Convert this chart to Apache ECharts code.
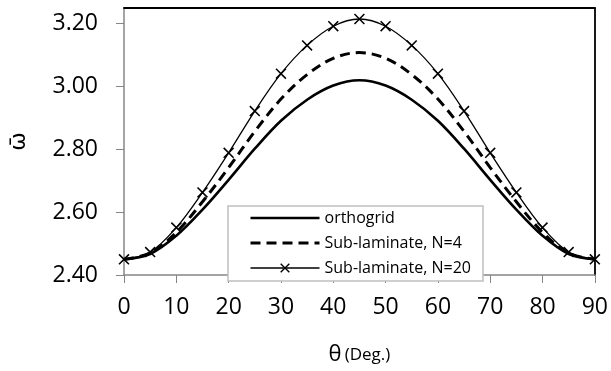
<!DOCTYPE html>
<html>
<head>
<meta charset="utf-8">
<script src="https://cdn.jsdelivr.net/npm/echarts@6/dist/echarts.min.js"></script>
<style>html,body{margin:0;padding:0;background:#fff;}#c{width:611px;height:371px;}</style>
</head>
<body>
<div id="c"></div>
<script>
const xDeg = [0,5,10,15,20,25,30,35,40,45,50,55,60,65,70,75,80,85,90];
const orthogrid = [2.45,2.467,2.525,2.608,2.703,2.802,2.891,2.958,3.003,3.020,3.003,2.958,2.891,2.802,2.703,2.608,2.525,2.467,2.45];
const subN4 = [2.45,2.470,2.536,2.633,2.742,2.857,2.960,3.038,3.090,3.108,3.090,3.038,2.960,2.857,2.742,2.633,2.536,2.470,2.45];
const subN20 = [2.45,2.473,2.551,2.663,2.789,2.922,3.041,3.131,3.192,3.215,3.192,3.131,3.041,2.922,2.789,2.663,2.551,2.473,2.45];
const yTicks = [2.4,2.6,2.8,3.0,3.2];
const seriesNames = ['orthogrid','Sub-laminate, N=4','Sub-laminate, N=20'];

const pairs = arr => xDeg.map((x,i)=>[x,arr[i]]);
const xMark = 'path://M0,1L1,0L10,9L9,10ZM9,0L10,1L1,10L0,9Z';
const FONT = 'Open Sans';
const chart = echarts.init(document.getElementById('c'), null, {renderer:'canvas'});
chart.setOption({
  animation:false,
  backgroundColor:'#fff',
  textStyle:{fontFamily:FONT,color:'#000'},
  grid:{left:123,right:13,top:8,bottom:82,containLabel:false},
  legend:{
    orient:'vertical', left:228, top:206,
    backgroundColor:'#fff', borderColor:'#bfbfbf', borderWidth:1.5,
    padding:[4,12,5,21], itemGap:9, itemWidth:69, itemHeight:12,
    textStyle:{fontFamily:FONT,fontSize:16,color:'#000',lineHeight:16},
    data:[
      {name:seriesNames[0], itemStyle:{opacity:0}, lineStyle:{width:2.6,color:'#000'}},
      {name:seriesNames[1], itemStyle:{opacity:0}, lineStyle:{width:3,color:'#000',type:[10,6]}},
      {name:seriesNames[2], lineStyle:{width:1.3,color:'#000'}}
    ]
  },
  xAxis:[{
    type:'value', min:0, max:90, interval:10,
    name:'{a|θ} {b|(Deg.)}', nameLocation:'middle', nameGap:69,
    nameTextStyle:{rich:{a:{fontFamily:FONT,fontSize:22,color:'#000'},b:{fontFamily:FONT,fontSize:17,color:'#000'}}},
    axisLine:{onZero:false,lineStyle:{color:'#868686',width:1.5}},
    axisTick:{show:true,length:8,lineStyle:{color:'#868686',width:1}},
    axisLabel:{fontFamily:FONT,fontSize:23,color:'#000',margin:21},
    splitLine:{show:false}
  },{
    type:'value', position:'top', min:0, max:90,
    axisLine:{show:true,onZero:false,lineStyle:{color:'#000',width:1.8}},
    axisTick:{show:false}, axisLabel:{show:false}, splitLine:{show:false}
  }],
  yAxis:[{
    type:'value', min:2.4, max:3.25, interval:0.2,
    name:'ω̄', nameLocation:'middle', nameGap:94, nameRotate:90,
    nameTextStyle:{fontFamily:'DejaVu Sans',fontSize:22,color:'#000'},
    axisLine:{show:true,onZero:false,lineStyle:{color:'#868686',width:1.5}},
    axisTick:{show:true,length:8,lineStyle:{color:'#868686',width:1},customValues:yTicks},
    axisLabel:{fontFamily:FONT,fontSize:23,color:'#000',margin:26,customValues:yTicks,
      formatter:v=>Number(v).toFixed(2)},
    splitLine:{show:false}
  },{
    type:'value', position:'right', min:2.4, max:3.25,
    axisLine:{show:true,onZero:false,lineStyle:{color:'#000',width:1.8}},
    axisTick:{show:false}, axisLabel:{show:false}, splitLine:{show:false}
  }],
  series:[
    {name:seriesNames[0], type:'line', data:pairs(orthogrid), smooth:0.35, symbol:'none',
     lineStyle:{color:'#000',width:2.6}, itemStyle:{color:'#000'}},
    {name:seriesNames[1], type:'line', data:pairs(subN4), smooth:0.35, symbol:'none',
     lineStyle:{color:'#000',width:3,type:[10,6]}, itemStyle:{color:'#000'}},
    {name:seriesNames[2], type:'line', data:pairs(subN20), smooth:0.35, symbol:xMark, symbolSize:11,
     lineStyle:{color:'#000',width:1.3}, itemStyle:{color:'#000'}}
  ]
});
</script>
</body>
</html>
